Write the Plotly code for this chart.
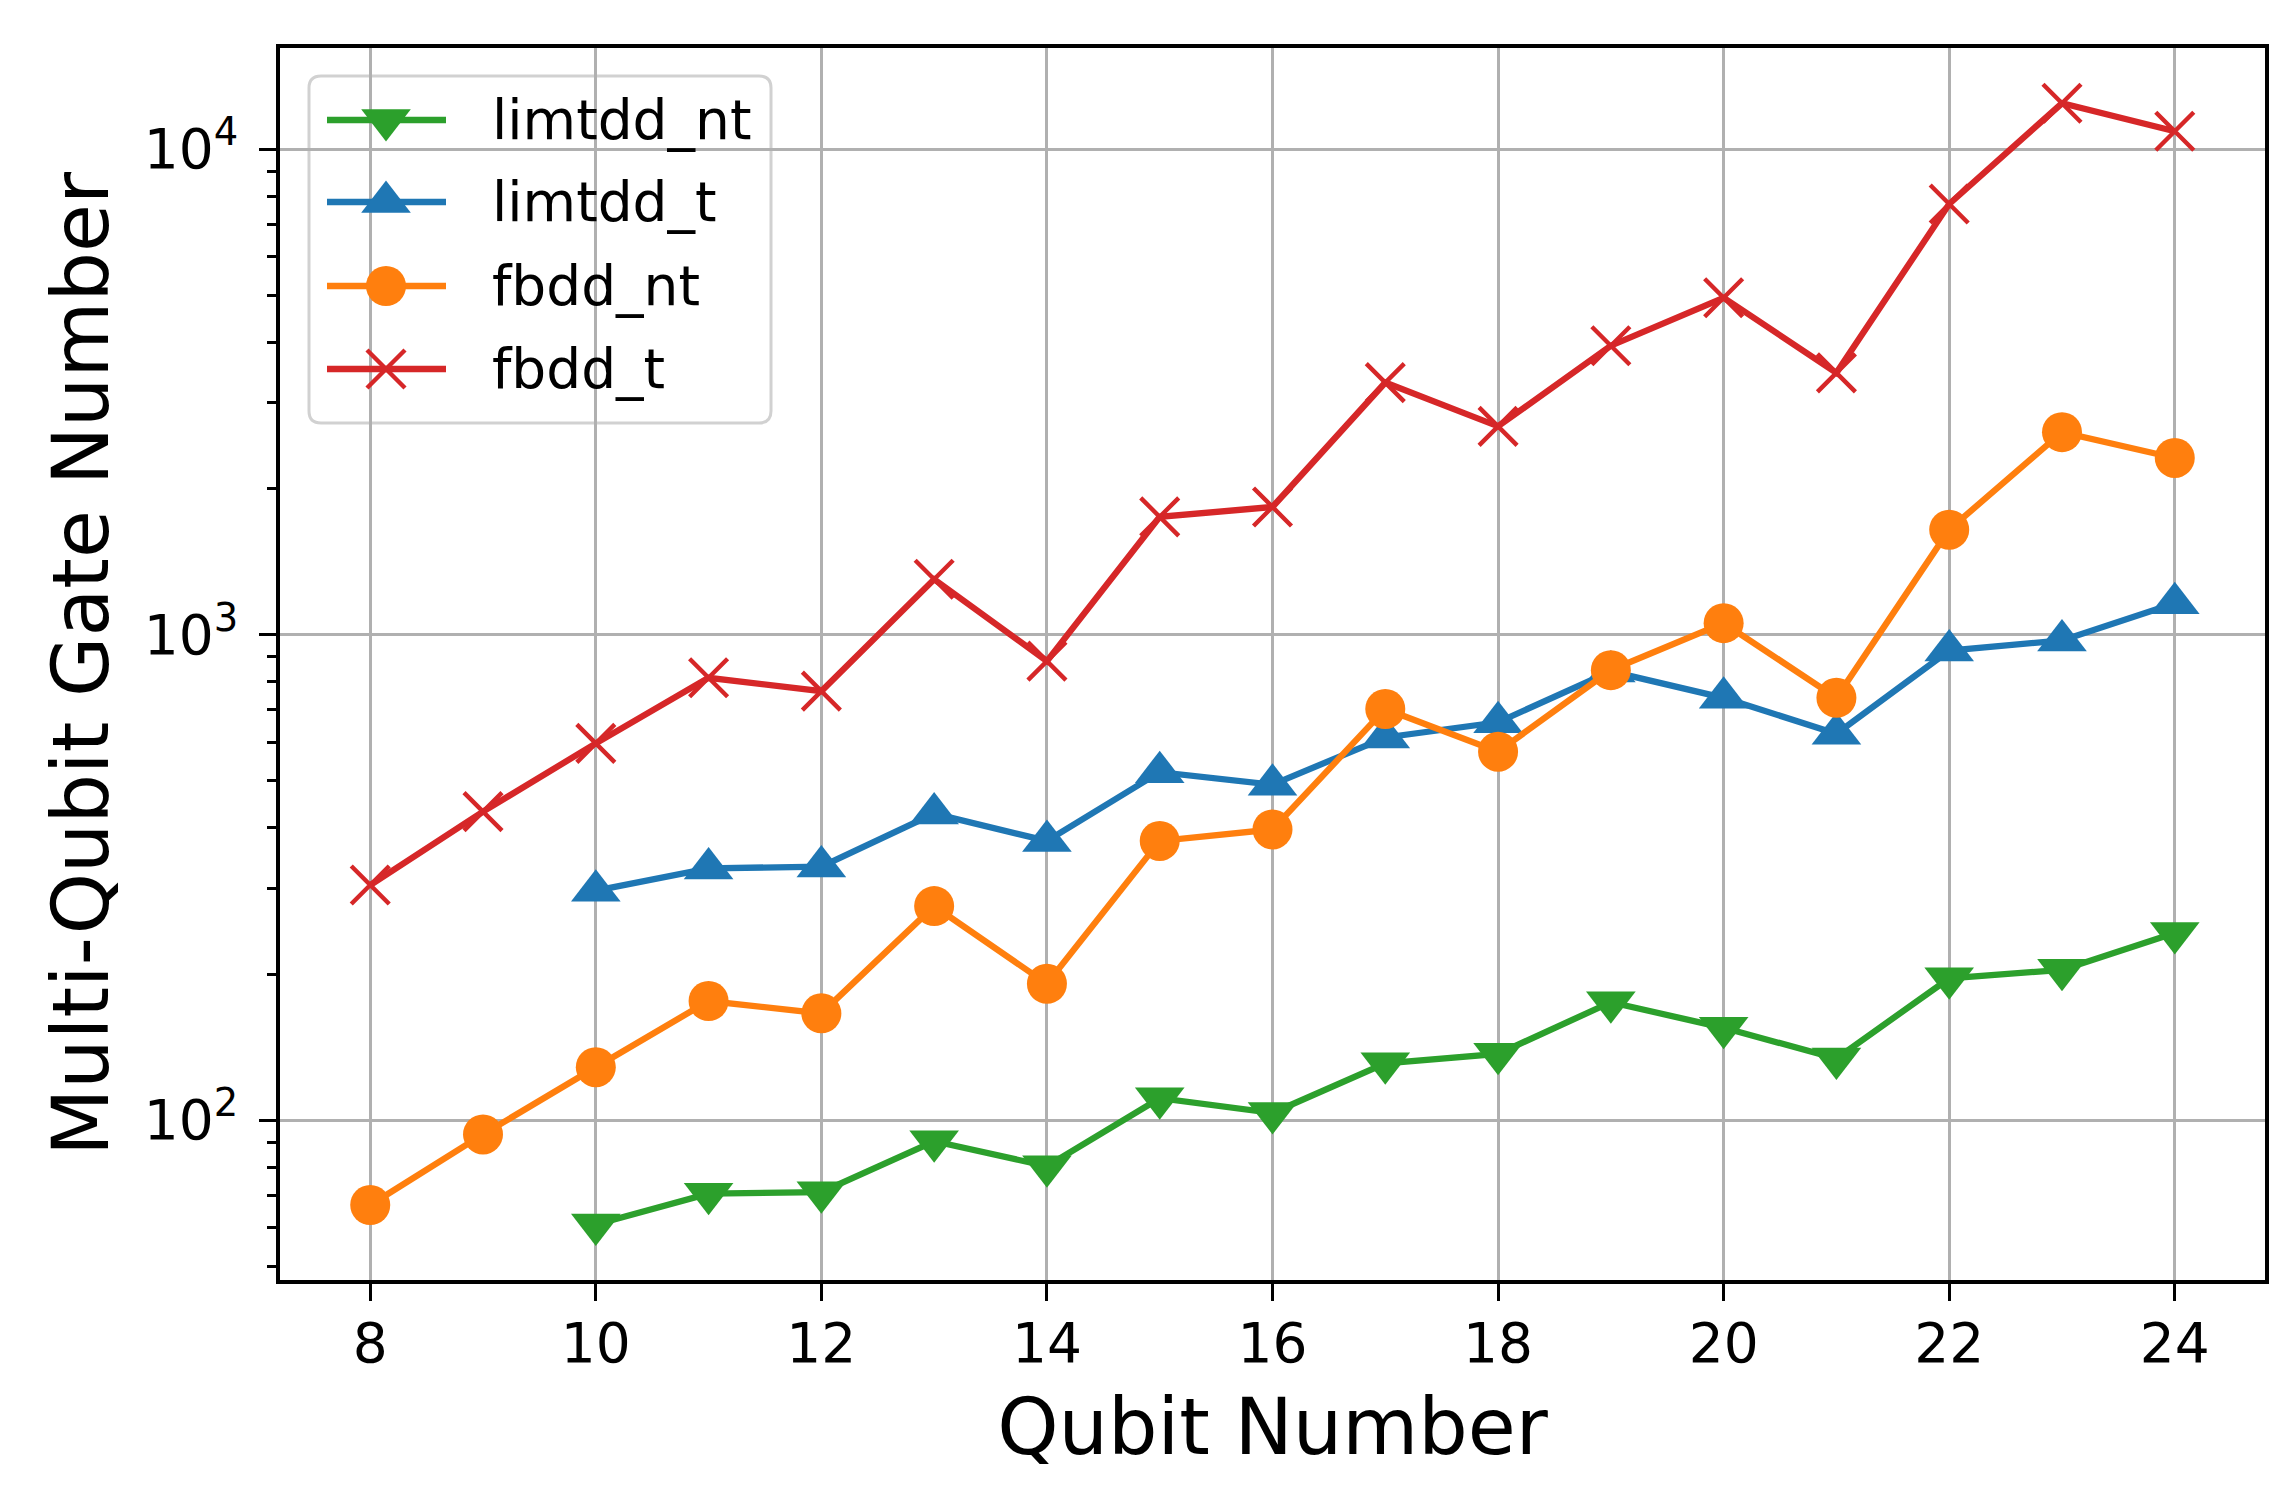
import plotly.graph_objects as go

# ---- data ----
qubits_lim = list(range(10, 25))
qubits_fb = list(range(8, 25))

limtdd_nt = [61, 70.6, 71.1, 90.5, 80.4, 111, 103.5, 131, 137, 175, 155, 134, 196, 204, 243]
limtdd_t = [297, 330, 333, 428, 376, 521, 491, 614, 660, 840, 741, 625, 927, 973, 1161]
fbdd_nt = [66.9, 93.5, 128.6, 176, 166, 276, 191, 376, 397, 703, 574, 845, 1056, 741, 1645, 2612, 2311]
fbdd_t = [305, 432, 597, 815, 765, 1300, 882, 1748, 1832, 3304, 2685, 3935, 4940, 3460, 7705, 12420, 10880]

series_names = ["limtdd_nt", "limtdd_t", "fbdd_nt", "fbdd_t"]

x_ticks = [8, 10, 12, 14, 16, 18, 20, 22, 24]
y_ticks = [100, 1000, 10000]
y_tick_text = ["10<sup>2</sup>", "10<sup>3</sup>", "10<sup>4</sup>"]
y_minor_ticks = [50, 60, 70, 80, 90, 200, 300, 400, 500, 600, 700, 800, 900,
                 2000, 3000, 4000, 5000, 6000, 7000, 8000, 9000]

# ---- style ----
FONT = "DejaVu Sans"
W, H = 2296, 1503
L, R, T, B = 272, 39, 40, 231
PW, PH = W - L - R, H - T - B
X_RANGE = [7.2, 24.8]

styles = {
    "limtdd_nt": dict(color="#2ca02c", symbol="triangle-down", size=43, lw=0),
    "limtdd_t": dict(color="#1f77b4", symbol="triangle-up", size=43, lw=0),
    "fbdd_nt": dict(color="#ff7f0e", symbol="circle", size=40, lw=0),
    "fbdd_t": dict(color="#d62728", symbol="x-thin", size=38, lw=4.4),
}
LINE_W = 6.3

fig = go.Figure()
data_map = {
    "limtdd_nt": (qubits_lim, limtdd_nt),
    "limtdd_t": (qubits_lim, limtdd_t),
    "fbdd_nt": (qubits_fb, fbdd_nt),
    "fbdd_t": (qubits_fb, fbdd_t),
}
for name in series_names:
    xs, ys = data_map[name]
    st = styles[name]
    fig.add_trace(go.Scatter(
        x=xs, y=ys, name=name, mode="lines+markers", showlegend=False,
        line=dict(color=st["color"], width=LINE_W),
        marker=dict(symbol=st["symbol"], size=st["size"], color=st["color"],
                    line=dict(color=st["color"], width=st["lw"])),
    ))

# ---- custom legend (pixel offsets inside the plot area) ----
leg_left, leg_right, leg_top, leg_bot = 29, 491, 28, 375
rows_y = [72, 154, 238, 321]
samp_x0, samp_x1, samp_xm, text_x = 47, 166, 106, 210
rad = 12


def px_to_x(px):
    return X_RANGE[0] + px / PW * (X_RANGE[1] - X_RANGE[0])


def py_to_paper(py):
    return 1 - py / PH


xl, xr = px_to_x(leg_left), px_to_x(leg_right)
xlr, xrr = px_to_x(leg_left + rad), px_to_x(leg_right - rad)
yt, yb = py_to_paper(leg_top), py_to_paper(leg_bot)
ytr, ybr = py_to_paper(leg_top + rad), py_to_paper(leg_bot - rad)
box_path = (f"M{xlr},{yt} L{xrr},{yt} Q{xr},{yt} {xr},{ytr} "
            f"L{xr},{ybr} Q{xr},{yb} {xrr},{yb} "
            f"L{xlr},{yb} Q{xl},{yb} {xl},{ybr} "
            f"L{xl},{ytr} Q{xl},{yt} {xlr},{yt} Z")
fig.add_shape(type="path", path=box_path, xref="x", yref="paper",
              fillcolor="rgba(255,255,255,0.8)", line=dict(color="rgba(204,204,204,0.9)", width=3),
              layer="between")

for name, ry in zip(series_names, rows_y):
    st = styles[name]
    fig.add_trace(go.Scatter(
        x=[samp_x0, samp_x1], y=[ry, ry], xaxis="x2", yaxis="y2", mode="lines",
        line=dict(color=st["color"], width=LINE_W), showlegend=False, hoverinfo="skip"))
    fig.add_trace(go.Scatter(
        x=[samp_xm], y=[ry], xaxis="x2", yaxis="y2", mode="markers",
        marker=dict(symbol=st["symbol"], size=st["size"], color=st["color"],
                    line=dict(color=st["color"], width=st["lw"])),
        showlegend=False, hoverinfo="skip"))
    fig.add_annotation(x=text_x, y=ry, xref="x2", yref="y2", text=name, showarrow=False,
                       xanchor="left", yanchor="middle",
                       font=dict(family=FONT, size=55, color="black"))

fig.update_layout(
    width=W, height=H,
    margin=dict(l=L, r=R, t=T, b=B, autoexpand=False),
    paper_bgcolor="white", plot_bgcolor="white",
    font=dict(family=FONT, color="black", size=55),
    showlegend=False,
    xaxis=dict(
        range=X_RANGE, tickmode="array", tickvals=x_ticks,
        showgrid=True, gridcolor="#b0b0b0", gridwidth=3,
        showline=True, linecolor="black", linewidth=3.5, mirror=True,
        ticks="outside", ticklen=17, tickwidth=3.3, tickcolor="black",
        tickfont=dict(family=FONT, size=55, color="black"),
        ticklabelstandoff=-5,
        title=dict(text="Qubit Number", font=dict(family=FONT, size=78, color="black"), standoff=27),
        zeroline=False, automargin=False,
    ),
    yaxis=dict(
        type="log", range=[1.671, 4.208],
        tickmode="array", tickvals=y_ticks, ticktext=y_tick_text,
        showgrid=True, gridcolor="#b0b0b0", gridwidth=3,
        showline=True, linecolor="black", linewidth=3.5, mirror=True,
        ticks="outside", ticklen=17, tickwidth=3.3, tickcolor="black",
        tickfont=dict(family=FONT, size=55, color="black"),
        ticklabelstandoff=10,
        minor=dict(tickmode="array", tickvals=y_minor_ticks, ticks="outside",
                   ticklen=9, tickwidth=2.5, tickcolor="black", showgrid=False),
        title=dict(text="Multi-Qubit Gate Number", font=dict(family=FONT, size=78, color="black"), standoff=10),
        zeroline=False, automargin=False,
    ),
    xaxis2=dict(overlaying="x", range=[0, PW], visible=False, fixedrange=True),
    yaxis2=dict(overlaying="y", range=[PH, 0], visible=False, fixedrange=True),
)

fig.write_html("out.html")
